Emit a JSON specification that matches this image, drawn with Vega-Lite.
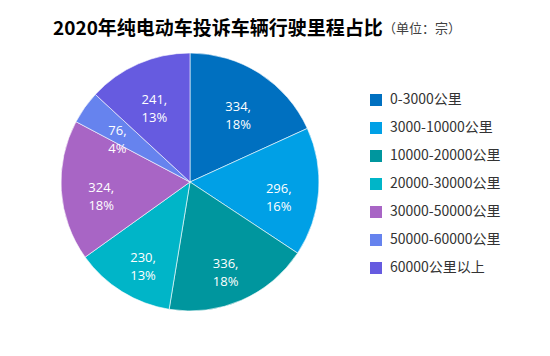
{
  "$schema": "https://vega.github.io/schema/vega-lite/v6.json",
  "width": 258,
  "height": 258,
  "autosize": {"type": "none"},
  "padding": {"left": 61, "top": 53, "right": 231, "bottom": 45},
  "background": "white",
  "title": {
    "text": "2020年纯电动车投诉车辆行驶里程占比",
    "subtitle": "⠀⠀⠀⠀⠀⠀⠀⠀⠀⠀⠀⠀⠀⠀⠀⠀⠀⠀⠀⠀⠀⠀⠀⠀⠀⠀⠀⠀⠀⠀⠀⠀⠀（单位：宗）",
    "anchor": "start",
    "frame": "group",
    "dx": -8,
    "offset": 13,
    "limit": 2000,
    "font": "Noto Sans CJK SC",
    "fontSize": 19,
    "fontWeight": "bold",
    "color": "#000000",
    "subtitleFont": "Noto Sans CJK SC",
    "subtitleFontSize": 13,
    "subtitleColor": "#404040",
    "subtitlePadding": -16
  },
  "data": {
    "values": [
      {"idx": 1, "range": "0-3000公里", "value": 334},
      {"idx": 2, "range": "3000-10000公里", "value": 296},
      {"idx": 3, "range": "10000-20000公里", "value": 336},
      {"idx": 4, "range": "20000-30000公里", "value": 230},
      {"idx": 5, "range": "30000-50000公里", "value": 324},
      {"idx": 6, "range": "50000-60000公里", "value": 76},
      {"idx": 7, "range": "60000公里以上", "value": 241}
    ]
  },
  "transform": [
    {"joinaggregate": [{"op": "sum", "field": "value", "as": "total"}]},
    {"calculate": "[datum.value + ',', format(datum.value / datum.total, '.0%')]", "as": "label"}
  ],
  "encoding": {
    "theta": {"field": "value", "type": "quantitative", "stack": true},
    "order": {"field": "idx", "type": "quantitative"}
  },
  "layer": [
    {
      "mark": {"type": "arc", "outerRadius": 129, "stroke": "white", "strokeWidth": 0.6},
      "encoding": {
        "color": {
          "field": "range",
          "type": "nominal",
          "scale": {
            "domain": ["0-3000公里", "3000-10000公里", "10000-20000公里", "20000-30000公里", "30000-50000公里", "50000-60000公里", "60000公里以上"],
            "range": ["#0070C0", "#00A0E6", "#00969E", "#00B5C8", "#A865C5", "#6683EE", "#665BE0"]
          },
          "legend": {
            "title": null,
            "orient": "none",
            "legendX": 308,
            "legendY": 40,
            "padding": 0,
            "symbolType": "square",
            "symbolSize": 144,
            "symbolStrokeWidth": 0,
            "labelFont": "Noto Sans CJK SC",
            "labelFontSize": 14,
            "labelColor": "#333333",
            "labelOffset": 7,
            "rowPadding": 14
          }
        }
      }
    },
    {
      "mark": {"type": "text", "radius": 89, "fontSize": 13, "lineHeight": 18, "font": "Open Sans", "align": "center", "baseline": "middle"},
      "encoding": {
        "text": {"field": "label"},
        "color": {"value": "white"}
      }
    }
  ],
  "config": {"view": {"stroke": null}}
}
